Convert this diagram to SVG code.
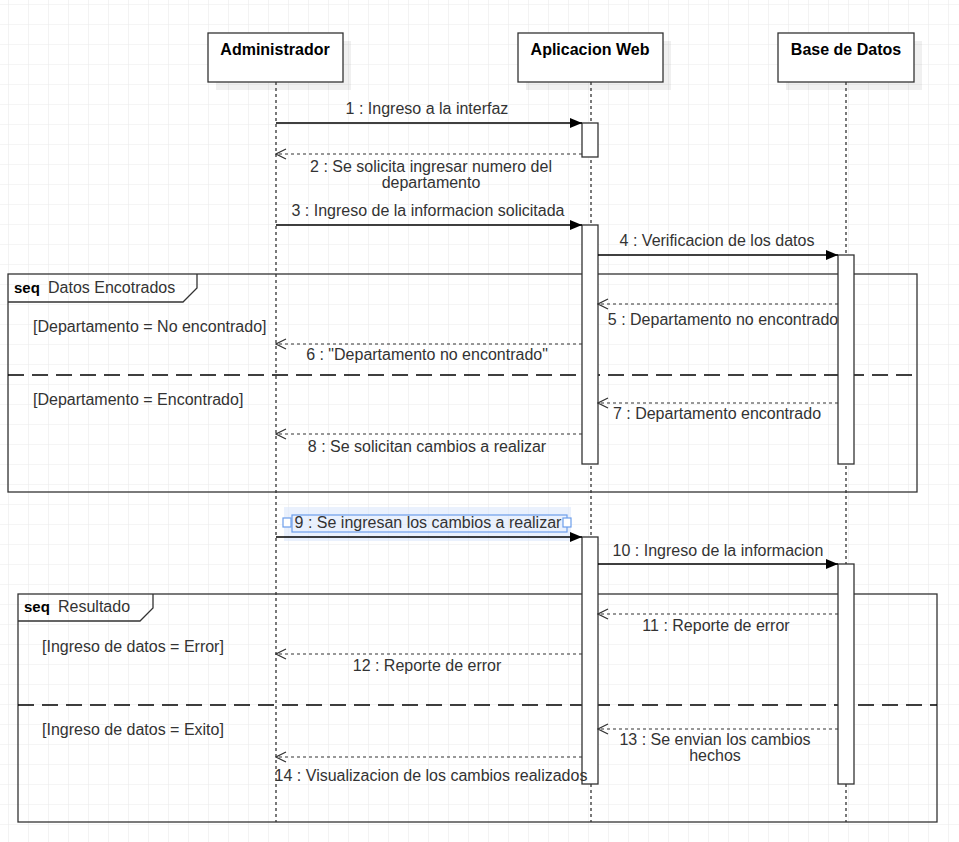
<svg xmlns="http://www.w3.org/2000/svg" width="959" height="842" viewBox="0 0 959 842">
<style>
text{font-family:"Liberation Sans",Arial,sans-serif;font-size:16px;fill:#333}
.t{font-weight:bold;fill:#000}
.m{text-anchor:middle}
.box{fill:#fff;stroke:#333;stroke-width:1.3}
.sh{fill:#000;opacity:0.06}
.life{stroke:#333;stroke-width:1.3;stroke-dasharray:3,3;fill:none}
.act{fill:#fff;stroke:#333;stroke-width:1.3}
.call{stroke:#000;stroke-width:1.3;fill:none}
.ret{stroke:#333;stroke-width:1.1;stroke-dasharray:3,3;fill:none}
.frame{fill:none;stroke:#333;stroke-width:1.3}
.div{stroke:#000;stroke-width:1.3;stroke-dasharray:16,8;fill:none}
</style>
<defs>
<pattern id="grid" x="8" y="4" width="20" height="20" patternUnits="userSpaceOnUse">
<path d="M0 0H20M0 0V20" stroke="#ebebeb" stroke-width="1.2" fill="none"/>
</pattern>
<marker id="fill" viewBox="0 0 12 10" refX="12" refY="5" markerWidth="12" markerHeight="10" markerUnits="userSpaceOnUse" orient="auto">
<path d="M0 0L12 5L0 10Z" fill="#000"/>
</marker>
<marker id="open" viewBox="0 0 12 12" refX="11" refY="6" markerWidth="12" markerHeight="12" markerUnits="userSpaceOnUse" orient="auto">
<path d="M1 1L11 6L1 11" fill="none" stroke="#333" stroke-width="1.2"/>
</marker>
</defs>
<rect width="959" height="842" fill="#fff"/>
<rect width="959" height="842" fill="url(#grid)"/>

<g id="frame-datos">
<rect class="frame" x="8" y="274" width="909" height="218"/>
<path class="frame" d="M8 302H183L197 288V274"/>
<text x="14" y="293" class="t" style="font-size:15px">seq</text>
<text x="48" y="293">Datos Encotrados</text>
<line class="div" x1="8" y1="375" x2="917" y2="375"/>
<text x="33" y="332">[Departamento = No encontrado]</text>
<text x="33" y="405">[Departamento = Encontrado]</text>
</g>

<g id="frame-resultado">
<rect class="frame" x="18" y="594" width="919" height="228"/>
<path class="frame" d="M18 621H140L153 608V594"/>
<text x="24" y="612" class="t" style="font-size:15px">seq</text>
<text x="58" y="612">Resultado</text>
<line class="div" x1="18" y1="705" x2="937" y2="705"/>
<text x="42" y="652">[Ingreso de datos = Error]</text>
<text x="42" y="735">[Ingreso de datos = Exito]</text>
</g>

<g id="administrador">
<rect class="sh" x="216" y="41" width="135" height="49"/>
<rect class="box" x="208" y="33" width="135" height="49"/>
<text x="275" y="55" class="t m">Administrador</text>
<line class="life" x1="276" y1="82" x2="276" y2="822"/>
</g>

<g id="aplicacion-web">
<rect class="sh" x="526" y="41" width="145" height="49"/>
<rect class="box" x="518" y="33" width="145" height="49"/>
<text x="590" y="55" class="t m">Aplicacion Web</text>
<line class="life" x1="591" y1="82" x2="591" y2="822"/>
<rect class="act" x="582" y="123" width="16" height="34"/>
<rect class="act" x="582" y="225" width="16" height="239"/>
<rect class="act" x="582" y="537" width="16" height="247"/>
</g>

<g id="base-de-datos">
<rect class="sh" x="786" y="41" width="136" height="49"/>
<rect class="box" x="778" y="33" width="136" height="49"/>
<text x="846" y="55" class="t m">Base de Datos</text>
<line class="life" x1="846" y1="82" x2="846" y2="822"/>
<rect class="act" x="838" y="255" width="16" height="209"/>
<rect class="act" x="838" y="564" width="16" height="220"/>
</g>

<g id="connectors">
<line class="call" x1="276" y1="123" x2="582" y2="123" marker-end="url(#fill)"/>
<text x="427" y="114" class="m">1 : Ingreso a la interfaz</text>

<line class="ret" x1="582" y1="154" x2="276" y2="154" marker-end="url(#open)"/>
<text x="431" y="172" class="m">2 : Se solicita ingresar numero del</text>
<text x="431" y="188" class="m">departamento</text>

<line class="call" x1="276" y1="225" x2="582" y2="225" marker-end="url(#fill)"/>
<text x="428" y="216" class="m">3 : Ingreso de la informacion solicitada</text>

<line class="call" x1="598" y1="255" x2="838" y2="255" marker-end="url(#fill)"/>
<text x="717" y="246" class="m">4 : Verificacion de los datos</text>

<line class="ret" x1="838" y1="304" x2="598" y2="304" marker-end="url(#open)"/>
<text x="723" y="325" class="m">5 : Departamento no encontrado</text>

<line class="ret" x1="582" y1="344" x2="276" y2="344" marker-end="url(#open)"/>
<text x="427" y="360" class="m">6 : "Departamento no encontrado"</text>

<line class="ret" x1="838" y1="403" x2="598" y2="403" marker-end="url(#open)"/>
<text x="717" y="419" class="m">7 : Departamento encontrado</text>

<line class="ret" x1="582" y1="434" x2="276" y2="434" marker-end="url(#open)"/>
<text x="427" y="452" class="m">8 : Se solicitan cambios a realizar</text>

<rect x="284" y="507" width="287" height="34" fill="#dce8fb" opacity="0.6"/>
<line class="call" x1="276" y1="537" x2="582" y2="537" marker-end="url(#fill)"/>
<rect x="292" y="515" width="275" height="17" fill="none" stroke="#6d9eeb" stroke-width="1.2"/>
<rect x="283" y="518" width="8" height="9" fill="#fff" stroke="#6d9eeb" stroke-width="1.2"/>
<rect x="563" y="518" width="8" height="9" fill="#fff" stroke="#6d9eeb" stroke-width="1.2"/>
<text x="428" y="528" class="m">9 : Se ingresan los cambios a realizar</text>

<line class="call" x1="598" y1="564" x2="838" y2="564" marker-end="url(#fill)"/>
<text x="718" y="556" class="m">10 : Ingreso de la informacion</text>

<line class="ret" x1="838" y1="614" x2="598" y2="614" marker-end="url(#open)"/>
<text x="716" y="631" class="m">11 : Reporte de error</text>

<line class="ret" x1="582" y1="654" x2="276" y2="654" marker-end="url(#open)"/>
<text x="427" y="671" class="m">12 : Reporte de error</text>

<line class="ret" x1="838" y1="729" x2="598" y2="729" marker-end="url(#open)"/>
<text x="715" y="745" class="m">13 : Se envian los cambios</text>
<text x="715" y="761" class="m">hechos</text>

<line class="ret" x1="582" y1="757" x2="276" y2="757" marker-end="url(#open)"/>
<text x="431" y="781" class="m">14 : Visualizacion de los cambios realizados</text>
</g>
</svg>
